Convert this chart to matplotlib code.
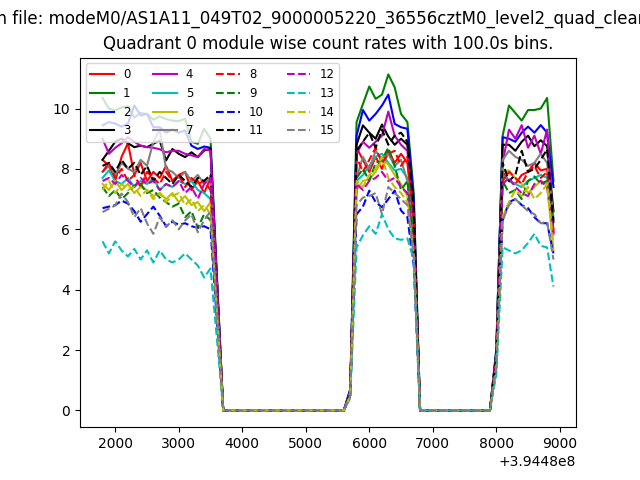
import matplotlib
matplotlib.use("Agg")
import matplotlib.pyplot as plt
import numpy as np

# Module count rates (counts/s) in 100 s bins.
t_ref = 394480000
bin_size = 100.0
t_first = 1800  # seconds after t_ref
n_bins = 72

evt_file = "modeM0/AS1A11_049T02_9000005220_36556cztM0_level2_quad_clean.evt"
quadrant = 0

# Each module: first orbit chunk, gap, second chunk, gap, third chunk.
gap1 = [0.0] * 20
gap2 = [0.0] * 12

seg1 = {
    0: [8.3, 8.1, 7.6, 8.4, 8.85, 7.8, 8.2, 7.6, 7.9, 7.7, 8.1, 7.6, 7.8, 7.9, 7.3, 7.6, 7.2, 7.7, 3.9],
    1: [10.35, 10.0, 9.93, 10.04, 10.07, 9.7, 9.85, 9.82, 9.63, 9.74, 9.65, 9.6, 9.58, 9.66, 8.9, 8.83, 9.33, 9.0, 4.5],
    2: [9.44, 9.55, 9.5, 9.4, 9.5, 10.1, 9.77, 9.82, 9.38, 9.38, 9.2, 9.3, 9.2, 9.27, 8.77, 8.66, 8.74, 8.7, 4.4],
    3: [8.3, 8.6, 8.9, 9.0, 8.85, 8.72, 8.77, 8.72, 8.83, 8.94, 8.28, 8.66, 8.5, 8.39, 8.55, 8.39, 8.61, 8.66, 4.3],
    4: [9.0, 8.5, 8.7, 8.85, 9.05, 8.9, 8.77, 8.72, 8.7, 8.65, 8.55, 8.6, 8.6, 8.5, 8.45, 8.39, 8.66, 8.6, 4.3],
    5: [7.7, 7.95, 7.6, 7.5, 7.7, 7.4, 7.6, 7.5, 7.7, 7.3, 7.5, 7.4, 7.6, 7.5, 7.6, 7.3, 7.2, 7.0, 3.5],
    6: [7.5, 7.3, 7.6, 7.3, 7.5, 7.2, 7.4, 7.3, 7.1, 7.2, 7.0, 7.2, 6.9, 7.1, 6.8, 6.9, 6.6, 6.9, 3.4],
    7: [7.9, 8.1, 7.8, 8.2, 8.0, 7.9, 8.3, 8.1, 8.9, 9.3, 8.0, 7.9, 7.7, 7.9, 7.6, 7.8, 7.5, 7.7, 3.9],
    8: [7.9, 8.2, 7.7, 8.0, 7.6, 7.8, 7.4, 7.9, 7.7, 7.5, 7.9, 7.6, 7.8, 7.4, 7.7, 7.5, 7.6, 7.3, 3.7],
    9: [7.4, 7.1, 7.3, 7.0, 7.2, 7.45, 7.5, 7.2, 7.3, 7.05, 6.9, 6.75, 6.85, 6.4, 6.6, 6.05, 6.5, 6.3, 3.2],
    10: [6.7, 6.75, 6.8, 6.95, 6.85, 6.6, 6.25, 6.5, 6.75, 6.45, 6.1, 6.25, 6.15, 6.2, 6.1, 6.05, 6.1, 6.0, 3.0],
    11: [8.1, 8.2, 7.9, 8.3, 8.0, 8.2, 7.8, 8.1, 7.6, 7.9, 7.7, 7.5, 7.8, 7.6, 7.4, 7.7, 7.6, 7.8, 3.9],
    12: [7.6, 7.7, 7.5, 7.8, 7.6, 7.4, 7.7, 7.5, 7.6, 7.3, 7.5, 7.4, 7.6, 7.2, 7.4, 7.0, 7.5, 7.7, 3.8],
    13: [5.6, 5.2, 5.6, 5.3, 5.1, 5.35, 5.0, 5.3, 4.9, 5.3, 5.0, 4.9, 5.0, 5.2, 5.0, 4.8, 4.4, 4.7, 2.4],
    14: [7.3, 7.6, 7.2, 7.5, 7.3, 7.4, 7.1, 7.3, 7.0, 7.2, 6.9, 7.1, 7.2, 6.8, 7.0, 6.6, 6.8, 6.5, 3.3],
    15: [6.57, 6.68, 6.79, 7.18, 6.9, 6.4, 6.7, 6.2, 5.85, 6.4, 6.07, 6.3, 6.0, 6.29, 6.5, 5.9, 6.3, 6.6, 3.2],
}
seg2 = {
    0: [0.6, 8.7, 8.3, 7.9, 8.4, 8.0, 8.6, 8.2, 8.5, 8.2, 6.2],
    1: [0.7, 9.55, 10.15, 10.73, 10.32, 10.46, 11.13, 10.7, 9.82, 9.55, 7.2],
    2: [0.7, 9.1, 9.95, 9.6, 9.82, 10.1, 10.46, 9.49, 9.38, 9.33, 7.0],
    3: [0.6, 8.8, 9.44, 9.2, 9.0, 9.47, 9.07, 8.8, 9.0, 8.8, 6.6],
    4: [0.6, 8.5, 8.9, 8.7, 8.9, 9.1, 9.9, 9.1, 8.8, 8.6, 6.5],
    5: [0.5, 7.6, 7.8, 8.1, 8.4, 8.5, 8.2, 7.95, 8.0, 7.7, 5.8],
    6: [0.5, 7.3, 7.6, 7.65, 7.9, 8.3, 8.15, 7.8, 7.5, 7.1, 5.3],
    7: [0.6, 7.7, 8.4, 8.0, 8.6, 8.3, 8.5, 8.1, 8.3, 7.6, 5.7],
    8: [0.6, 8.4, 7.9, 8.3, 8.7, 8.2, 8.5, 8.6, 8.1, 8.4, 6.3],
    9: [0.5, 7.7, 8.0, 7.6, 8.2, 8.3, 8.7, 8.1, 7.3, 7.6, 5.7],
    10: [0.5, 6.5, 6.75, 7.28, 6.9, 6.73, 7.0, 7.28, 6.62, 6.4, 4.8],
    11: [0.6, 8.6, 8.9, 9.2, 8.7, 9.3, 8.8, 9.1, 9.2, 8.9, 6.7],
    12: [0.5, 7.5, 7.3, 7.6, 7.7, 7.9, 7.6, 7.7, 7.4, 7.2, 5.4],
    13: [0.4, 5.4, 5.8, 6.1, 5.85, 6.5, 6.0, 5.7, 5.65, 5.7, 5.0],
    14: [0.5, 7.6, 7.4, 7.8, 8.0, 8.4, 7.7, 7.4, 7.2, 6.9, 5.2],
    15: [0.5, 6.8, 7.05, 7.1, 7.2, 6.5, 7.4, 7.2, 7.0, 6.8, 5.1],
}
seg3 = {
    0: [1.7, 7.9, 7.6, 7.5, 7.8, 7.9, 8.2, 7.95, 8.0, 5.9],
    1: [2.0, 9.1, 10.1, 9.85, 9.6, 9.95, 9.95, 10.0, 10.35, 7.6],
    2: [2.0, 9.05, 9.0, 8.9, 9.2, 9.4, 9.2, 9.45, 9.2, 7.4],
    3: [1.9, 8.8, 8.8, 8.6, 8.9, 9.1, 8.75, 8.95, 8.75, 6.6],
    4: [1.8, 8.2, 9.3, 9.0, 9.45, 8.7, 9.1, 8.5, 9.3, 5.9],
    5: [1.7, 7.8, 7.6, 7.5, 7.4, 7.6, 7.7, 7.8, 7.7, 6.3],
    6: [1.7, 7.9, 7.95, 7.7, 7.5, 7.2, 7.4, 7.6, 7.5, 5.3],
    7: [1.8, 8.3, 8.6, 8.4, 8.3, 8.1, 8.2, 8.5, 8.2, 6.4],
    8: [1.7, 7.6, 7.9, 7.7, 7.5, 7.9, 8.1, 7.7, 7.9, 6.0],
    9: [1.7, 7.6, 7.2, 7.3, 7.0, 7.6, 7.75, 7.5, 7.6, 6.3],
    10: [1.4, 6.3, 6.9, 7.0, 6.8, 6.7, 6.4, 6.2, 6.2, 5.2],
    11: [1.8, 8.2, 7.6, 7.8, 8.6, 7.9, 8.0, 8.3, 8.65, 6.2],
    12: [1.6, 7.5, 7.7, 7.4, 7.2, 7.1, 7.5, 7.6, 7.4, 5.8],
    13: [1.2, 5.4, 5.3, 5.2, 5.3, 5.55, 5.85, 5.45, 5.4, 4.1],
    14: [1.4, 6.4, 6.9, 7.3, 7.1, 7.4, 7.0, 7.2, 7.5, 5.5],
    15: [1.4, 6.3, 6.8, 7.0, 6.8, 6.6, 6.5, 6.2, 6.25, 5.0],
}

colors = ["r", "g", "b", "k", "m", "c", "y", "gray"]

times = t_ref + t_first + bin_size * np.arange(n_bins)

fig, ax = plt.subplots(figsize=(6.4, 4.8), dpi=100)
for mod in range(16):
    rate = np.array(seg1[mod] + gap1 + seg2[mod] + gap2 + seg3[mod])
    ls = "-" if mod < 8 else "--"
    ax.plot(times, rate, ls, color=colors[mod % 8], label=str(mod))

ax.legend(loc="upper left", ncol=4, fontsize="small")
ax.set_title(f"Quadrant {quadrant} module wise count rates with {bin_size}s bins.")
fig.suptitle(f"Clean file: {evt_file}")

fig.savefig("out.png")
